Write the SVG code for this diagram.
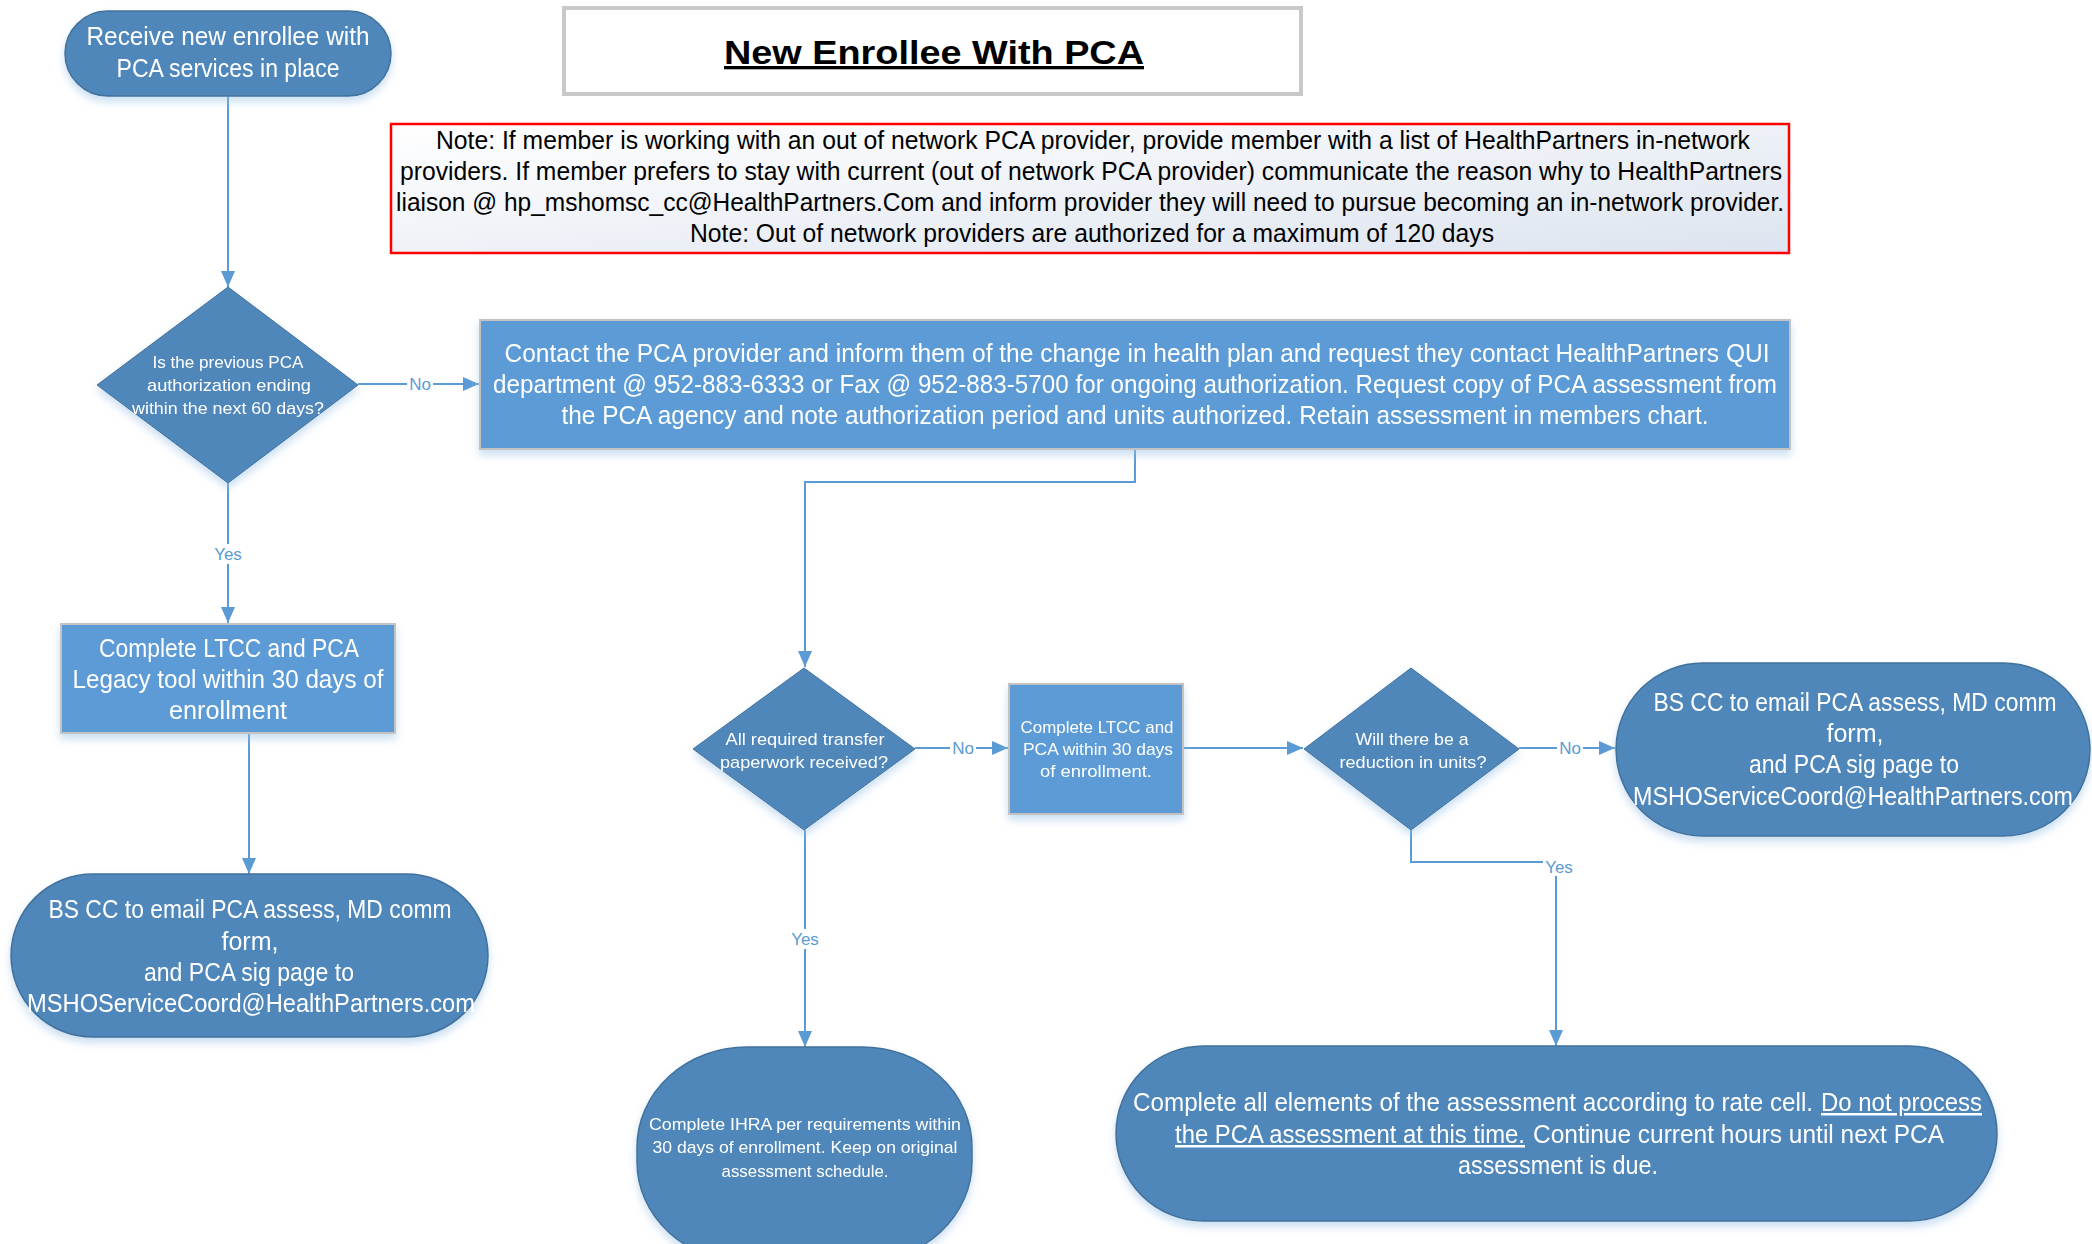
<svg xmlns="http://www.w3.org/2000/svg" width="2092" height="1244" viewBox="0 0 2092 1244">
<style>
.term{fill:#4f87ba;stroke:#41719c;stroke-width:1.5}
.proc{fill:#5b9bd5;stroke:#c3c3c3;stroke-width:2}
.dec{fill:#4f87ba;stroke:#41719c;stroke-width:1}
.t{font-family:"Liberation Sans",Arial,sans-serif;fill:#ffffff;text-anchor:middle}
.big{font-size:25px}
.small{font-size:17px}
.note{font-family:"Liberation Sans",Arial,sans-serif;fill:#000000;text-anchor:middle;font-size:25px}
.edge{fill:none;stroke:#5b9bd5;stroke-width:2}
.lbl{font-family:"Liberation Sans",Arial,sans-serif;font-size:17px;fill:#5b9bd5;text-anchor:middle}
.lblbg{fill:#ffffff}
</style>
<defs>
<marker id="arr" markerUnits="userSpaceOnUse" markerWidth="16" markerHeight="14" refX="16" refY="7" orient="auto">
<path d="M0,0 L16,7 L0,14 z" fill="#5b9bd5"/>
</marker>
<filter id="sh" x="-10%" y="-10%" width="120%" height="130%">
<feDropShadow dx="0" dy="5" stdDeviation="4" flood-color="#9dc3e6" flood-opacity="0.55"/>
</filter>
<linearGradient id="ng" x1="0" y1="0" x2="1" y2="1">
<stop offset="0" stop-color="#ffffff"/>
<stop offset="1" stop-color="#dde4ef"/>
</linearGradient>
</defs>
<rect width="2092" height="1244" fill="#ffffff"/>

<g id="title">
<rect x="564" y="8" width="737" height="86" fill="#ffffff" stroke="#c8c8c8" stroke-width="4"/>
<text x="934" y="64" font-family="'Liberation Sans',Arial,sans-serif" font-size="33" font-weight="bold" text-anchor="middle" text-decoration="underline" textLength="420" lengthAdjust="spacingAndGlyphs">New Enrollee With PCA</text>
</g>

<g id="note">
<rect x="391" y="124" width="1398" height="129" fill="url(#ng)" stroke="#ff0000" stroke-width="2.5"/>
<text class="note" x="1093" y="149" textLength="1314" lengthAdjust="spacingAndGlyphs">Note: If member is working with an out of network PCA provider, provide member with a list of HealthPartners in-network</text>
<text class="note" x="1091" y="180" textLength="1382" lengthAdjust="spacingAndGlyphs">providers. If member prefers to stay with current (out of network PCA provider) communicate the reason why to HealthPartners</text>
<text class="note" x="1090" y="211" textLength="1388" lengthAdjust="spacingAndGlyphs">liaison @ hp_mshomsc_cc@HealthPartners.Com and inform provider they will need to pursue becoming an in-network provider.</text>
<text class="note" x="1092" y="242" textLength="804" lengthAdjust="spacingAndGlyphs">Note: Out of network providers are authorized for a  maximum of 120 days</text>
</g>

<g id="connectors">
<path class="edge" d="M228,96 L228,287" marker-end="url(#arr)"/>
<path class="edge" d="M358,384 L479,384" marker-end="url(#arr)"/>
<path class="edge" d="M228,483 L228,623" marker-end="url(#arr)"/>
<path class="edge" d="M249,733 L249,874" marker-end="url(#arr)"/>
<path class="edge" d="M1135,449 L1135,482 L805,482 L805,667" marker-end="url(#arr)"/>
<path class="edge" d="M915,748 L1008,748" marker-end="url(#arr)"/>
<path class="edge" d="M1183,748 L1303,748" marker-end="url(#arr)"/>
<path class="edge" d="M1519,748 L1615,748" marker-end="url(#arr)"/>
<path class="edge" d="M1411,830 L1411,862 L1556,862 L1556,1046" marker-end="url(#arr)"/>
<path class="edge" d="M805,830 L805,1047" marker-end="url(#arr)"/>
<rect class="lblbg" x="407" y="374" width="26" height="20"/>
<text class="lbl" x="420" y="390">No</text>
<rect class="lblbg" x="212" y="544" width="32" height="20"/>
<text class="lbl" x="228" y="560">Yes</text>
<rect class="lblbg" x="950" y="738" width="26" height="20"/>
<text class="lbl" x="963" y="754">No</text>
<rect class="lblbg" x="1557" y="738" width="26" height="20"/>
<text class="lbl" x="1570" y="754">No</text>
<rect class="lblbg" x="789" y="929" width="32" height="20"/>
<text class="lbl" x="805" y="945">Yes</text>
<rect class="lblbg" x="1543" y="856" width="32" height="20"/>
<text class="lbl" x="1559" y="873">Yes</text>
</g>

<g id="start" filter="url(#sh)">
<rect class="term" x="65" y="11" width="326" height="85" rx="42.5"/>
<text class="t big" x="228" y="45" textLength="283" lengthAdjust="spacingAndGlyphs">Receive new enrollee with</text>
<text class="t big" x="228" y="77" textLength="223" lengthAdjust="spacingAndGlyphs">PCA services in place</text>
</g>

<g id="decision1" filter="url(#sh)">
<polygon class="dec" points="228,287 358,385 228,483 97,385"/>
<text class="t small" x="228" y="368" textLength="151" lengthAdjust="spacingAndGlyphs">Is the previous PCA</text>
<text class="t small" x="229" y="391" textLength="164" lengthAdjust="spacingAndGlyphs">authorization ending</text>
<text class="t small" x="228" y="414" textLength="192" lengthAdjust="spacingAndGlyphs">within the next 60 days?</text>
</g>

<g id="contact" filter="url(#sh)">
<rect class="proc" x="480" y="320" width="1310" height="129"/>
<text class="t big" x="1137" y="362" textLength="1265" lengthAdjust="spacingAndGlyphs">Contact the PCA provider and inform them of the change in health plan and request they contact HealthPartners QUI</text>
<text class="t big" x="1135" y="393" textLength="1284" lengthAdjust="spacingAndGlyphs">department @ 952-883-6333 or Fax @ 952-883-5700 for ongoing authorization.  Request copy of PCA assessment from</text>
<text class="t big" x="1135" y="424" textLength="1147" lengthAdjust="spacingAndGlyphs">the PCA agency and  note authorization period and units authorized. Retain assessment in members chart.</text>
</g>

<g id="legacy" filter="url(#sh)">
<rect class="proc" x="61" y="624" width="334" height="109"/>
<text class="t big" x="229" y="657" textLength="260" lengthAdjust="spacingAndGlyphs">Complete LTCC and PCA</text>
<text class="t big" x="228" y="688" textLength="311" lengthAdjust="spacingAndGlyphs">Legacy tool within 30 days of</text>
<text class="t big" x="228" y="719" textLength="118" lengthAdjust="spacingAndGlyphs">enrollment</text>
</g>

<g id="bscc1" filter="url(#sh)">
<rect class="term" x="11" y="874" width="477" height="163" rx="81.5"/>
<text class="t big" x="250" y="918" textLength="403" lengthAdjust="spacingAndGlyphs">BS CC to email PCA assess, MD comm</text>
<text class="t big" x="250" y="950" textLength="57" lengthAdjust="spacingAndGlyphs">form,</text>
<text class="t big" x="249" y="981" textLength="210" lengthAdjust="spacingAndGlyphs">and PCA sig page to</text>
<text class="t big" x="251" y="1012" textLength="448" lengthAdjust="spacingAndGlyphs">MSHOServiceCoord@HealthPartners.com</text>
</g>

<g id="decision2" filter="url(#sh)">
<polygon class="dec" points="804,668 915,749 804,830 693,749"/>
<text class="t small" x="805" y="745" textLength="159" lengthAdjust="spacingAndGlyphs">All required transfer</text>
<text class="t small" x="804" y="768" textLength="168" lengthAdjust="spacingAndGlyphs">paperwork received?</text>
</g>

<g id="ltcc" filter="url(#sh)">
<rect class="proc" x="1009" y="684" width="174" height="130"/>
<text class="t small" x="1097" y="733" textLength="153" lengthAdjust="spacingAndGlyphs">Complete LTCC and</text>
<text class="t small" x="1098" y="755" textLength="150" lengthAdjust="spacingAndGlyphs">PCA within 30 days</text>
<text class="t small" x="1096" y="777" textLength="112" lengthAdjust="spacingAndGlyphs">of enrollment.</text>
</g>

<g id="decision3" filter="url(#sh)">
<polygon class="dec" points="1411,668 1519,749 1411,830 1304,749"/>
<text class="t small" x="1412" y="745" textLength="113" lengthAdjust="spacingAndGlyphs">Will there be a</text>
<text class="t small" x="1413" y="768" textLength="147" lengthAdjust="spacingAndGlyphs">reduction in units?</text>
</g>

<g id="bscc2" filter="url(#sh)">
<rect class="term" x="1616" y="663" width="474" height="173" rx="86.5"/>
<text class="t big" x="1855" y="711" textLength="403" lengthAdjust="spacingAndGlyphs">BS CC to email PCA assess, MD comm</text>
<text class="t big" x="1855" y="742" textLength="57" lengthAdjust="spacingAndGlyphs">form,</text>
<text class="t big" x="1854" y="773" textLength="210" lengthAdjust="spacingAndGlyphs">and PCA sig page to</text>
<text class="t big" x="1853" y="805" textLength="440" lengthAdjust="spacingAndGlyphs">MSHOServiceCoord@HealthPartners.com</text>
</g>

<g id="ihra" filter="url(#sh)">
<rect class="term" x="637" y="1047" width="335" height="215" rx="110" ry="100"/>
<text class="t small" x="805" y="1130" textLength="312" lengthAdjust="spacingAndGlyphs">Complete IHRA per requirements within</text>
<text class="t small" x="805" y="1153" textLength="305" lengthAdjust="spacingAndGlyphs">30 days of enrollment. Keep on original</text>
<text class="t small" x="805" y="1177" textLength="167" lengthAdjust="spacingAndGlyphs">assessment schedule.</text>
</g>

<g id="final" filter="url(#sh)">
<rect class="term" x="1116" y="1046" width="881" height="175" rx="87.5"/>
<text class="t big" x="1133" y="1111" style="text-anchor:start" textLength="680" lengthAdjust="spacingAndGlyphs">Complete all elements of the assessment according to rate cell.</text>
<text class="t big" x="1821" y="1111" style="text-anchor:start" text-decoration="underline" textLength="161" lengthAdjust="spacingAndGlyphs">Do not process</text>
<text class="t big" x="1175" y="1143" style="text-anchor:start" text-decoration="underline" textLength="350" lengthAdjust="spacingAndGlyphs">the PCA assessment at this time.</text>
<text class="t big" x="1533" y="1143" style="text-anchor:start" textLength="411" lengthAdjust="spacingAndGlyphs">Continue current hours until next PCA</text>
<text class="t big" x="1558" y="1174" textLength="200" lengthAdjust="spacingAndGlyphs">assessment is due.</text>
</g>
</svg>
